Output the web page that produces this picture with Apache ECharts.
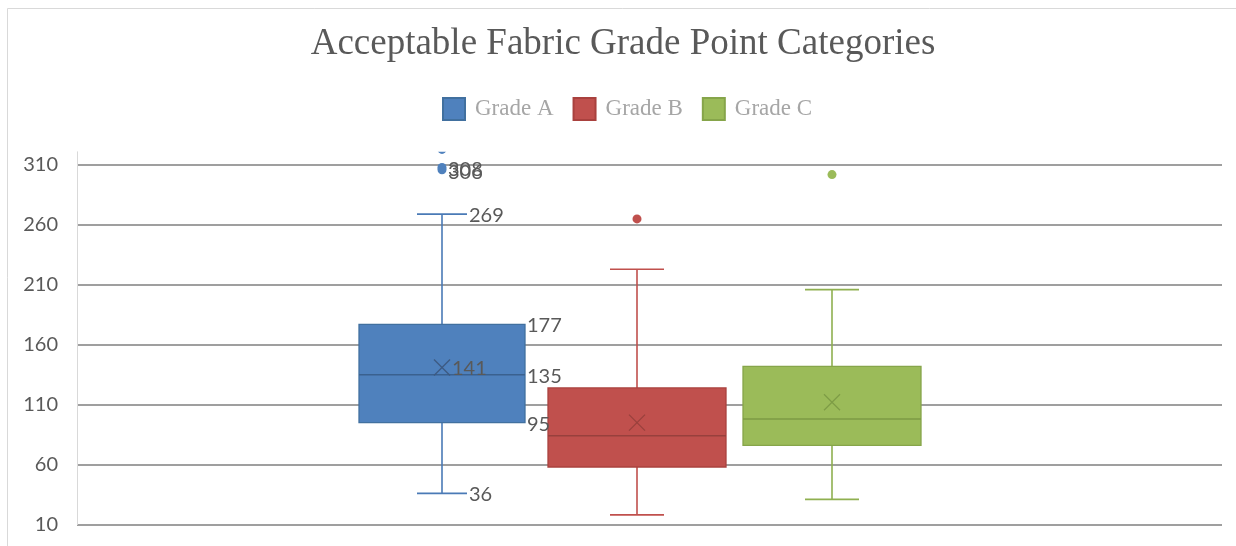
<!DOCTYPE html>
<html><head><meta charset="utf-8">
<script src="https://cdn.jsdelivr.net/npm/echarts@6/dist/echarts.min.js"></script>
<style>html,body{margin:0;padding:0;background:#fff}#c{width:1236px;height:546px}</style>
</head><body><div id="c"></div>
<script>
// ---- data ----
const categories = ['Grade A', 'Grade B', 'Grade C'];
const whiskerMin = [36, 18, 31];
const q1 = [95, 58, 76];
const median = [135, 84, 98];
const q3 = [177, 124, 142];
const whiskerMax = [269, 223, 206];
const means = [141, 95, 112];
const outliersA = [306, 308, 323];
const outliersB = [265];
const outliersC = [302];
const yTickLabels = [10, 60, 110, 160, 210, 260, 310];
const yMin = 10, yTickMax = 310, yPlotMax = 321, yInterval = 50;
const titleText = 'Acceptable Fabric Grade Point Categories';

// ---- styles ----
const colors = [
  {fill: '#4f81bd', line: '#4a7ab6', border: '#41709f', median: '#3a618f', mean: '#3d5a80'},
  {fill: '#c0504d', line: '#c0504d', border: '#a9413e', median: '#98403d', mean: '#98403d'},
  {fill: '#9bbb59', line: '#8fb050', border: '#86a54a', median: '#7d9a45', mean: '#7e9c46'}
];
const boxWidths = [166, 178, 178];
const capWidths = [50, 54, 54];
const labelFont = '20px Lato';
const outlierSets = [outliersA, outliersB, outliersC];

function boxRenderer(i) {
  return function (params, api) {
    const c = api.value(0);
    const pt = v => api.coord([c, v]);
    const x = pt(api.value(1))[0];
    const yLo = pt(api.value(1))[1], yQ1 = pt(api.value(2))[1], yMed = pt(api.value(3))[1];
    const yQ3 = pt(api.value(4))[1], yHi = pt(api.value(5))[1], yMean = pt(api.value(6))[1];
    const bw = boxWidths[i], cw = capWidths[i], col = colors[i];
    const ls = {stroke: col.line, lineWidth: 1.6};
    const h = 8;
    return {type: 'group', children: [
      {type: 'line', shape: {x1: x, y1: yQ3, x2: x, y2: yHi}, style: ls},
      {type: 'line', shape: {x1: x - cw / 2, y1: yHi, x2: x + cw / 2, y2: yHi}, style: ls},
      {type: 'line', shape: {x1: x, y1: yQ1, x2: x, y2: yLo}, style: ls},
      {type: 'line', shape: {x1: x - cw / 2, y1: yLo, x2: x + cw / 2, y2: yLo}, style: ls},
      {type: 'rect', shape: {x: x - bw / 2, y: yQ3, width: bw, height: yQ1 - yQ3},
        style: {fill: col.fill, stroke: col.border, lineWidth: 1.3}},
      {type: 'line', shape: {x1: x - bw / 2, y1: yMed, x2: x + bw / 2, y2: yMed},
        style: {stroke: col.median, lineWidth: 1.5}},
      {type: 'line', shape: {x1: x - h, y1: yMean - h, x2: x + h, y2: yMean + h},
        style: {stroke: col.mean, lineWidth: 1.2}},
      {type: 'line', shape: {x1: x - h, y1: yMean + h, x2: x + h, y2: yMean - h},
        style: {stroke: col.mean, lineWidth: 1.2}}
    ]};
  };
}

function outlierRenderer(i) {
  return function (params, api) {
    const p = api.coord([api.value(0), api.value(1)]);
    return {type: 'circle', shape: {cx: p[0], cy: p[1], r: 4.5}, style: {fill: colors[i].fill}};
  };
}

function labelRenderer(dx, dy) {
  return function (params, api) {
    const p = api.coord([api.value(0), api.value(1)]);
    return {type: 'text', x: p[0] + dx, y: p[1] + dy,
      style: {text: String(api.value(1)), font: labelFont, fill: '#595959',
        align: 'left', verticalAlign: 'middle'}};
  };
}

const series = [];
categories.forEach((name, i) => {
  series.push({
    name: name, type: 'custom', xAxisIndex: 2, yAxisIndex: 2, clip: true,
    itemStyle: {color: colors[i].fill, borderColor: colors[i].border, borderWidth: 1},
    renderItem: boxRenderer(i),
    encode: {x: 0, y: [1, 2, 3, 4, 5, 6]},
    data: [[i, whiskerMin[i], q1[i], median[i], q3[i], whiskerMax[i], means[i]]],
    silent: true, z: 2
  });
});
categories.forEach((name, i) => {
  series.push({
    name: name + ' outliers', type: 'custom', xAxisIndex: 2, yAxisIndex: 2, clip: true,
    renderItem: outlierRenderer(i),
    encode: {x: 0, y: 1},
    data: outlierSets[i].map(v => [i, v]),
    silent: true, z: 3
  });
});
// Data labels for Grade A
const inPlot = v => v <= yTickMax;
const labelGroups = [
  {dx: 27, dy: 1.5, values: [whiskerMax[0], whiskerMin[0]]},
  {dx: 85, dy: 1.5, values: [q3[0], median[0], q1[0]]},
  {dx: 10, dy: 1, values: [means[0]]},
  {dx: 6, dy: 2.5, values: outliersA.filter(inPlot)}
];
labelGroups.forEach(g => {
  series.push({
    name: 'labels', type: 'custom', xAxisIndex: 2, yAxisIndex: 2, clip: false,
    renderItem: labelRenderer(g.dx, g.dy), encode: {x: 0, y: 1},
    data: g.values.map(v => [0, v]), silent: true, z: 4
  });
});

const chart = echarts.init(document.getElementById('c'), null, {renderer: 'canvas'});
chart.setOption({
  animation: false,
  backgroundColor: '#ffffff',
  title: {
    text: titleText, left: 623, top: 26, textAlign: 'center', padding: 0,
    textStyle: {fontFamily: 'Liberation Serif', fontSize: 37, fontWeight: 'normal', color: '#595959'}
  },
  legend: {
    data: categories, left: 442, top: 97, icon: 'rect', itemWidth: 22, itemHeight: 22, itemGap: 19,
    padding: 0,
    textStyle: {fontFamily: 'Liberation Serif', fontSize: 23, color: '#a6a6a6', padding: [0, 0, 0, 5]}
  },
  graphic: [{
    type: 'rect', shape: {x: 7.5, y: 8.5, width: 1400, height: 800},
    style: {fill: 'none', stroke: '#d9d9d9', lineWidth: 1}, silent: true, z: -10
  }],
  grid: [
    {left: 77, right: 14, top: 151.8, bottom: 21.5},
    {left: 77, right: 14, top: 165, bottom: 21.5},
    {left: 344.5, right: 306.5, top: 151.8, bottom: 21.5}
  ],
  xAxis: [
    {gridIndex: 0, type: 'value', show: false},
    {gridIndex: 1, type: 'value', show: false},
    {gridIndex: 2, type: 'category', data: categories, show: false}
  ],
  yAxis: [
    {gridIndex: 0, type: 'value', min: yMin, max: yPlotMax,
      axisLine: {show: true, lineStyle: {color: '#d9d9d9', width: 1}},
      axisTick: {show: false}, axisLabel: {show: false}, splitLine: {show: false}},
    {gridIndex: 1, type: 'value', min: yMin, max: yTickMax, interval: yInterval,
      axisLine: {show: false}, axisTick: {show: false},
      axisLabel: {margin: 19, color: '#595959', fontFamily: 'Lato', fontSize: 20,
        formatter: v => (yTickLabels.includes(v) ? String(v) : '')},
      splitLine: {show: true, lineStyle: {color: '#7f7f7f', width: 1.5}}},
    {gridIndex: 2, type: 'value', min: yMin, max: yPlotMax, show: false}
  ],
  series: series
});
</script>
</body></html>
